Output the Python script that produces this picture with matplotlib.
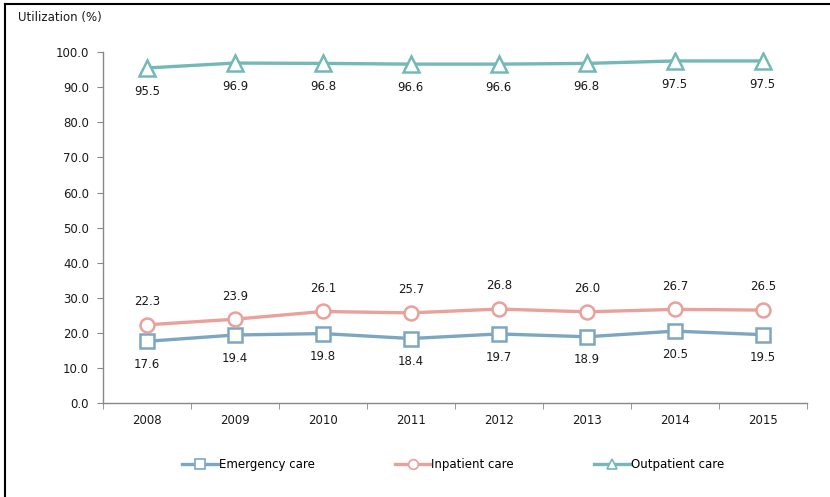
import matplotlib.pyplot as plt
from matplotlib.lines import Line2D

years = ['2008', '2009', '2010', '2011', '2012', '2013', '2014', '2015']
emergency = [17.6, 19.4, 19.8, 18.4, 19.7, 18.9, 20.5, 19.5]
inpatient = [22.3, 23.9, 26.1, 25.7, 26.8, 26.0, 26.7, 26.5]
outpatient = [95.5, 96.9, 96.8, 96.6, 96.6, 96.8, 97.5, 97.5]

series = [
    ('Emergency care', emergency, '#7da6c2', 's', 'below'),
    ('Inpatient care', inpatient, '#e9a19b', 'o', 'above'),
    ('Outpatient care', outpatient, '#74b9b8', '^', 'below'),
]

plt.rcParams['font.family'] = 'DejaVu Sans'
fig = plt.figure(figsize=(8.3, 4.97), dpi=100)
ax = fig.add_axes([0.124, 0.189, 0.848, 0.706])

x = list(range(len(years)))
for name, vals, col, mk, pos in series:
    ax.plot(x, vals, color=col, lw=2.4, marker=mk, ms=10 if mk != '^' else 11,
            mfc='white', mec=col, mew=1.8, label=name, zorder=3)
    for xi, v in zip(x, vals):
        dy = 12 if pos == 'above' else -12
        ax.annotate('%.1f' % v, (xi, v), xytext=(0, dy), textcoords='offset points',
                    ha='center', va='bottom' if pos == 'above' else 'top',
                    fontsize=8.5, color='#1a1a1a')

ax.set_xlim(-0.5, len(years) - 0.5)
ax.set_ylim(0, 100)
ax.set_yticks(range(0, 101, 10))
ax.set_yticklabels(['%.1f' % v for v in range(0, 101, 10)])
ax.set_xticks(x)
ax.set_xticklabels(years)
ax.set_xticks([i - 0.5 for i in range(len(years) + 1)], minor=True)
ax.tick_params(axis='x', which='major', length=0, pad=8, labelsize=8.5, colors='#1a1a1a')
ax.tick_params(axis='x', which='minor', length=4, color='#888888')
ax.tick_params(axis='y', length=4, color='#888888', labelsize=8.5, pad=6, labelcolor='#1a1a1a')
for s in ['top', 'right']:
    ax.spines[s].set_visible(False)
for s in ['left', 'bottom']:
    ax.spines[s].set_color('#888888')
    ax.spines[s].set_linewidth(1.0)

fig.text(0.022, 0.964, 'Utilization (%)', fontsize=8.5, color='#1a1a1a', ha='left', va='center')

handles = [Line2D([], [], color=c, lw=2.4, marker=m, ms=7, mfc='white', mec=c, mew=1.2)
           for _, _, c, m, _ in series]
fig.legend(handles, [s[0] for s in series], loc='center', bbox_to_anchor=(0.546, 0.066),
           ncol=3, frameon=False, fontsize=8.5, handlelength=3.0, handletextpad=0.1,
           columnspacing=6.8)

# thin frame lines along the top and left edge
fig.add_artist(Line2D([0.006, 1.0], [0.992, 0.992], transform=fig.transFigure, color='black', lw=1.5))
fig.add_artist(Line2D([0.006, 0.006], [0.0, 0.992], transform=fig.transFigure, color='black', lw=1.5))

fig.savefig('out.png', dpi=100)
